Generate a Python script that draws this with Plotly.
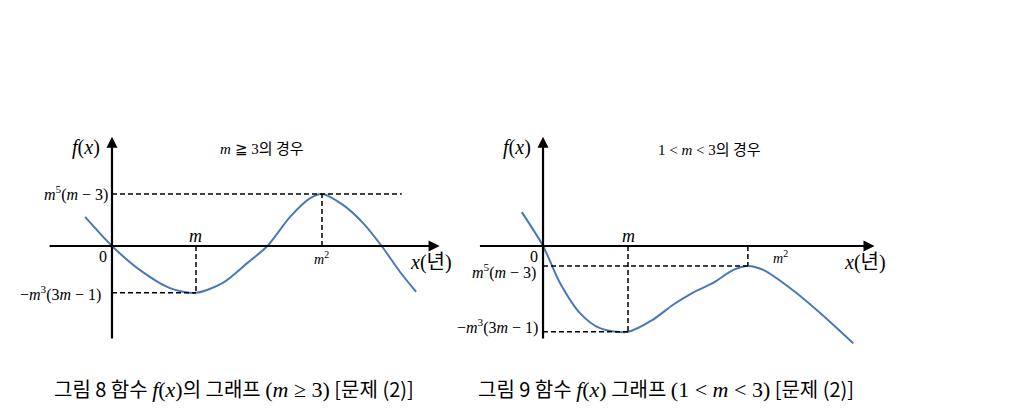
import plotly.graph_objects as go

# 왼쪽 그래프 (m >= 3), 원점 기준 단위: m = 1
left_x = [-0.32, 0, 0.33, 0.69, 1.0, 1.32, 1.61, 1.85, 2.12, 2.36, 2.5, 2.75, 2.99, 3.21, 3.43, 3.62]
left_y = [0.56, 0, -0.46, -0.81, -0.90, -0.71, -0.33, 0, 0.56, 0.92, 1.0, 0.79, 0.44, 0, -0.5, -0.88]
left_m, left_m2 = 1.0, 2.5
left_max, left_min = 1.0, -0.90
left_dash_end = 3.45

# 오른쪽 그래프 (1 < m < 3)
right_x = [-0.25, 0, 0.2, 0.435, 0.67, 1.0, 1.29, 1.53, 1.76, 2.0, 2.24, 2.41, 2.59, 2.94, 3.29, 3.65]
right_y = [0.65, 0, -0.71, -1.29, -1.58, -1.65, -1.42, -1.13, -0.90, -0.71, -0.46, -0.385, -0.46, -0.85, -1.33, -1.87]
right_m, right_m2 = 1.0, 2.41
right_max, right_min = -0.385, -1.65

BLUE = "#4a78b5"
MATH = "Liberation Serif"
KR = "Noto Sans CJK KR"
OFF = 8  # 페이지 body 여백
W, H = 1024, 414

fig = go.Figure()

def panel(xs, ys, m, m2, vmax, vmin, hend, xa, ya):
    fig.add_trace(go.Scatter(x=xs, y=ys, mode="lines", line=dict(color=BLUE, width=2, shape="spline", smoothing=0.8),
                             xaxis=xa, yaxis=ya, hoverinfo="skip"))
    dash = dict(color="black", width=1.5, dash="5px,3px")
    for dx, dy in [([0, hend], [vmax, vmax]), ([m2, m2], [0, vmax]),
                   ([0, m], [vmin, vmin]), ([m, m], [0, vmin])]:
        fig.add_trace(go.Scatter(x=dx, y=dy, mode="lines", line=dash, xaxis=xa, yaxis=ya, hoverinfo="skip"))

panel(left_x, left_y, left_m, left_m2, left_max, left_min, left_dash_end, "x", "y")
panel(right_x, right_y, right_m, right_m2, right_max, right_min, right_m2, "x2", "y2")

# 좌표축 (화살표)
for xr, yr in [("x", "y"), ("x2", "y2")]:
    fig.add_annotation(x=3.9, y=0, ax=-0.76, ay=0, xref=xr, yref=yr, axref=xr, ayref=yr,
                       showarrow=True, arrowhead=2, arrowsize=1, arrowwidth=2.2, arrowcolor="black", text="")
    fig.add_annotation(x=0, y=2.1, ax=0, ay=-1.81, xref=xr, yref=yr, axref=xr, ayref=yr,
                       showarrow=True, arrowhead=2, arrowsize=1, arrowwidth=2.2, arrowcolor="black", text="")

def label(text, x, y, xr, yr, size=14, anchor="center", family=MATH):
    fig.add_annotation(x=x, y=y, xref=xr, yref=yr, text=text, showarrow=False, xanchor=anchor,
                       font=dict(family=family, size=size, color="black"))

m = "<i>m</i>"
for xr, yr in [("x", "y"), ("x2", "y2")]:
    label("<i>f</i>(<i>x</i>)", -0.31, 1.90, xr, yr, size=20)
    label(m, 1.0, 0.19, xr, yr, size=18)
    label("0", -0.11, -0.21, xr, yr, size=16)
    label("<i>x</i>(<span style='font-family:Noto Sans CJK KR'>년</span>)", 3.52, -0.27, xr, yr, size=20, anchor="left")

label(m + " ≧ 3<span style='font-family:Noto Sans CJK KR'>의 경우</span>", 1.79, 1.90, "x", "y", size=15)
label(m + "<sup>5</sup>(" + m + " − 3)", -0.02, 1.0, "x", "y", size=16, anchor="right")
label("−" + m + "<sup>3</sup>(3" + m + " − 1)", -0.11, -0.92, "x", "y", size=16, anchor="right")
label(m + "<sup>2</sup>", 2.5, -0.23, "x", "y", size=14)

label("1 < " + m + " < 3<span style='font-family:Noto Sans CJK KR'>의 경우</span>", 1.96, 1.88, "x2", "y2", size=15)
label(m + "<sup>5</sup>(" + m + " − 3)", -0.06, -0.49, "x2", "y2", size=16, anchor="right")
label("−" + m + "<sup>3</sup>(3" + m + " − 1)", -0.035, -1.54, "x2", "y2", size=16, anchor="right")
label(m + "<sup>2</sup>", 2.79, -0.21, "x2", "y2", size=14)

# 캡션
cap = "<span style='font-family:Liberation Serif;font-size:22px'>"
fig.add_annotation(x=(234 - OFF) / W, y=1 - (388 - OFF) / H, xref="paper", yref="paper", showarrow=False,
                   xanchor="center", yanchor="middle",
                   text="그림 8 함수 " + cap + "<i>f</i>(<i>x</i>)</span>의 그래프 " + cap + "(<i>m</i> ≥ 3)</span> [문제 (2)]",
                   font=dict(family=KR, size=20, color="black"))
fig.add_annotation(x=(666 - OFF) / W, y=1 - (388 - OFF) / H, xref="paper", yref="paper", showarrow=False,
                   xanchor="center", yanchor="middle",
                   text="그림 9 함수 " + cap + "<i>f</i>(<i>x</i>)</span> 그래프 " + cap + "(1 &lt; <i>m</i> &lt; 3)</span> [문제 (2)]",
                   font=dict(family=KR, size=20, color="black"))

ax_common = dict(visible=False, showgrid=False, zeroline=False, fixedrange=True)
fig.update_layout(
    width=W, height=H, margin=dict(l=0, r=0, t=0, b=0),
    paper_bgcolor="white", plot_bgcolor="white", showlegend=False,
    xaxis=dict(domain=[(40 - OFF) / W, (450 - OFF) / W], range=[-0.857, 4.024], **ax_common),
    yaxis=dict(domain=[1 - (350 - OFF) / H, 1 - (130 - OFF) / H], range=[-2.0, 2.23], **ax_common),
    xaxis2=dict(domain=[(470 - OFF) / W, (890 - OFF) / W], range=[-0.859, 4.082], anchor="y2", **ax_common),
    yaxis2=dict(domain=[1 - (350 - OFF) / H, 1 - (130 - OFF) / H], range=[-2.0, 2.23], anchor="x2", **ax_common),
)

fig.write_html("out.html")
